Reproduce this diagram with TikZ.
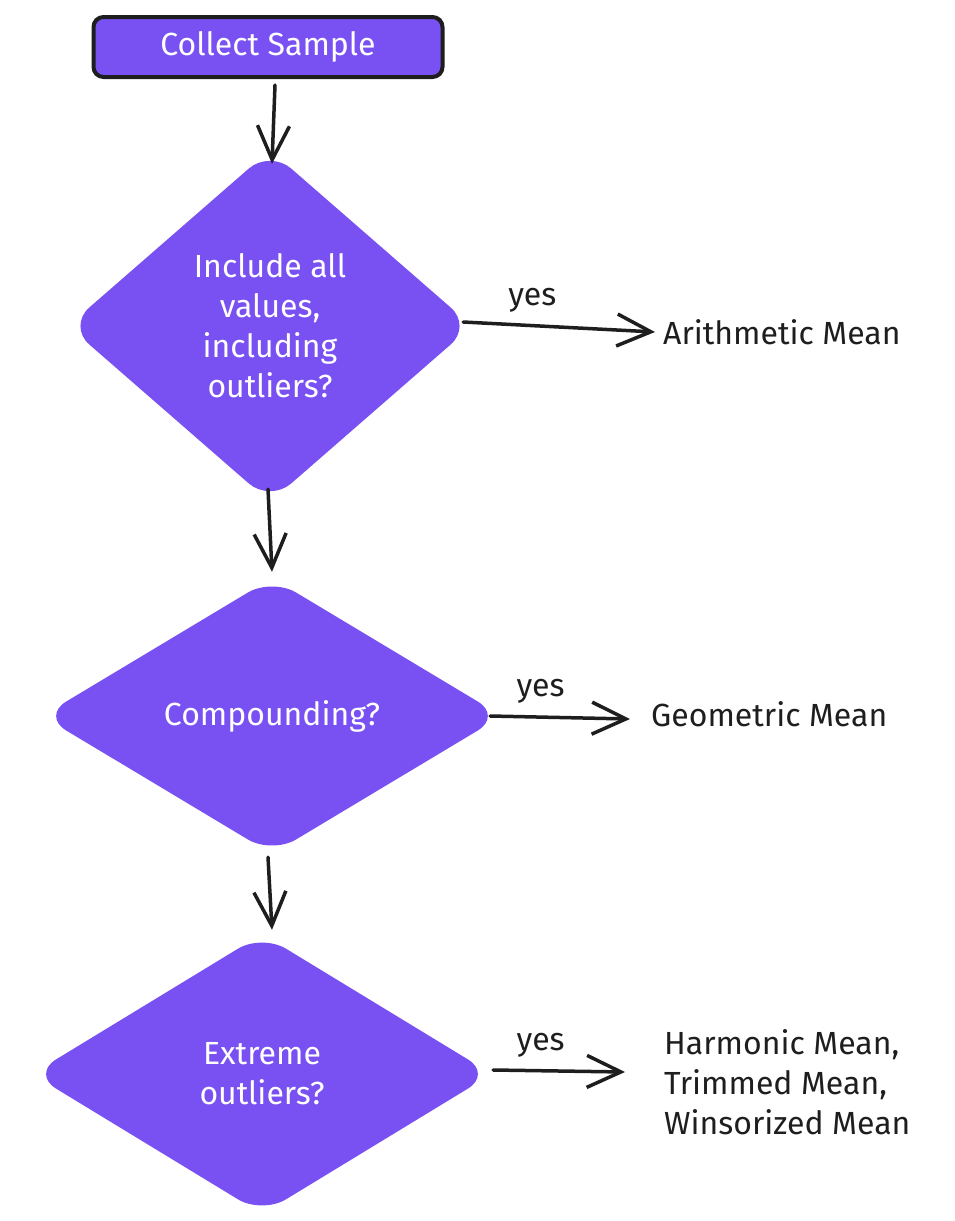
\documentclass[tikz,border=0pt]{standalone}
\usepackage{fontspec}
\setmainfont{Fira Sans}
\usepackage{tikz}
\usetikzlibrary{arrows.meta,shapes.geometric,positioning}
\definecolor{violet}{HTML}{7950F2}
\definecolor{ink}{HTML}{1E1E1E}

\begin{document}
\begin{tikzpicture}
	[x=1pt, y=-1pt, inner sep=0pt,
	every node/.style	= {font=\fontsize{32}{40}\selectfont},
	startbox/.style	= {rectangle, draw=ink, line width=4pt, fill=violet, text=white, rounded corners=10pt, minimum width=349pt, minimum height=60pt},
	decision/.style	= {diamond, fill=violet, text=white, align=center, rounded corners=28pt},
	result/.style	= {text=ink, align=left, anchor=west},
	paths/.style	= {-{Straight Barb[length=34pt,width=32pt,line width=3.5pt]}, line width=3.5pt, draw=ink, line cap=round},
	answer/.style	= {text=ink, above=12pt, pos=.36}]
	
	\useasboundingbox (0,0) rectangle (955,1221);
	
	\node at (268, 47)		[startbox]	(collect)	{Collect Sample};
	
	\node at (270, 326)		[decision, minimum width=404pt, minimum height=352pt]	(incl)	{Include all\\values,\\including\\outliers?};
	\node at (272, 716)		[decision, minimum width=460pt, minimum height=276pt]	(comp)	{Compounding?};
	\node at (262, 1074)	[decision, minimum width=460pt, minimum height=280pt]	(extr)	{Extreme\\outliers?};
	
	\node at (663, 332)		[result]	(arith)	{Arithmetic Mean};
	\node at (651, 714)		[result]	(geom)	{Geometric Mean};
	\node at (664, 1082)	[result]	(harm)	{Harmonic Mean,\\Trimmed Mean,\\Winsorized Mean};
	
	\draw [paths] ([xshift=7pt,yshift=-6pt]collect.south) -- ([xshift=2pt,yshift=-14pt]incl.north);
	\draw [paths] ([xshift=-2pt,yshift=13pt]incl.south) -- ([yshift=6pt]comp.north);
	\draw [paths] ([xshift=-4pt,yshift=-3pt]comp.south) -- ([xshift=10pt,yshift=4pt]extr.north);
	
	\draw [paths] ([xshift=-9pt,yshift=4pt]incl.east) -- ([xshift=-8pt]arith.west) node[answer] {yes};
	\draw [paths] ([xshift=-12pt]comp.east) -- ([xshift=-21pt,yshift=-5pt]geom.west) node[answer] {yes};
	\draw [paths] ([xshift=1pt,yshift=4pt]extr.east) -- ([xshift=-39pt,yshift=10pt]harm.west) node[answer] {yes};
\end{tikzpicture}
\end{document}
